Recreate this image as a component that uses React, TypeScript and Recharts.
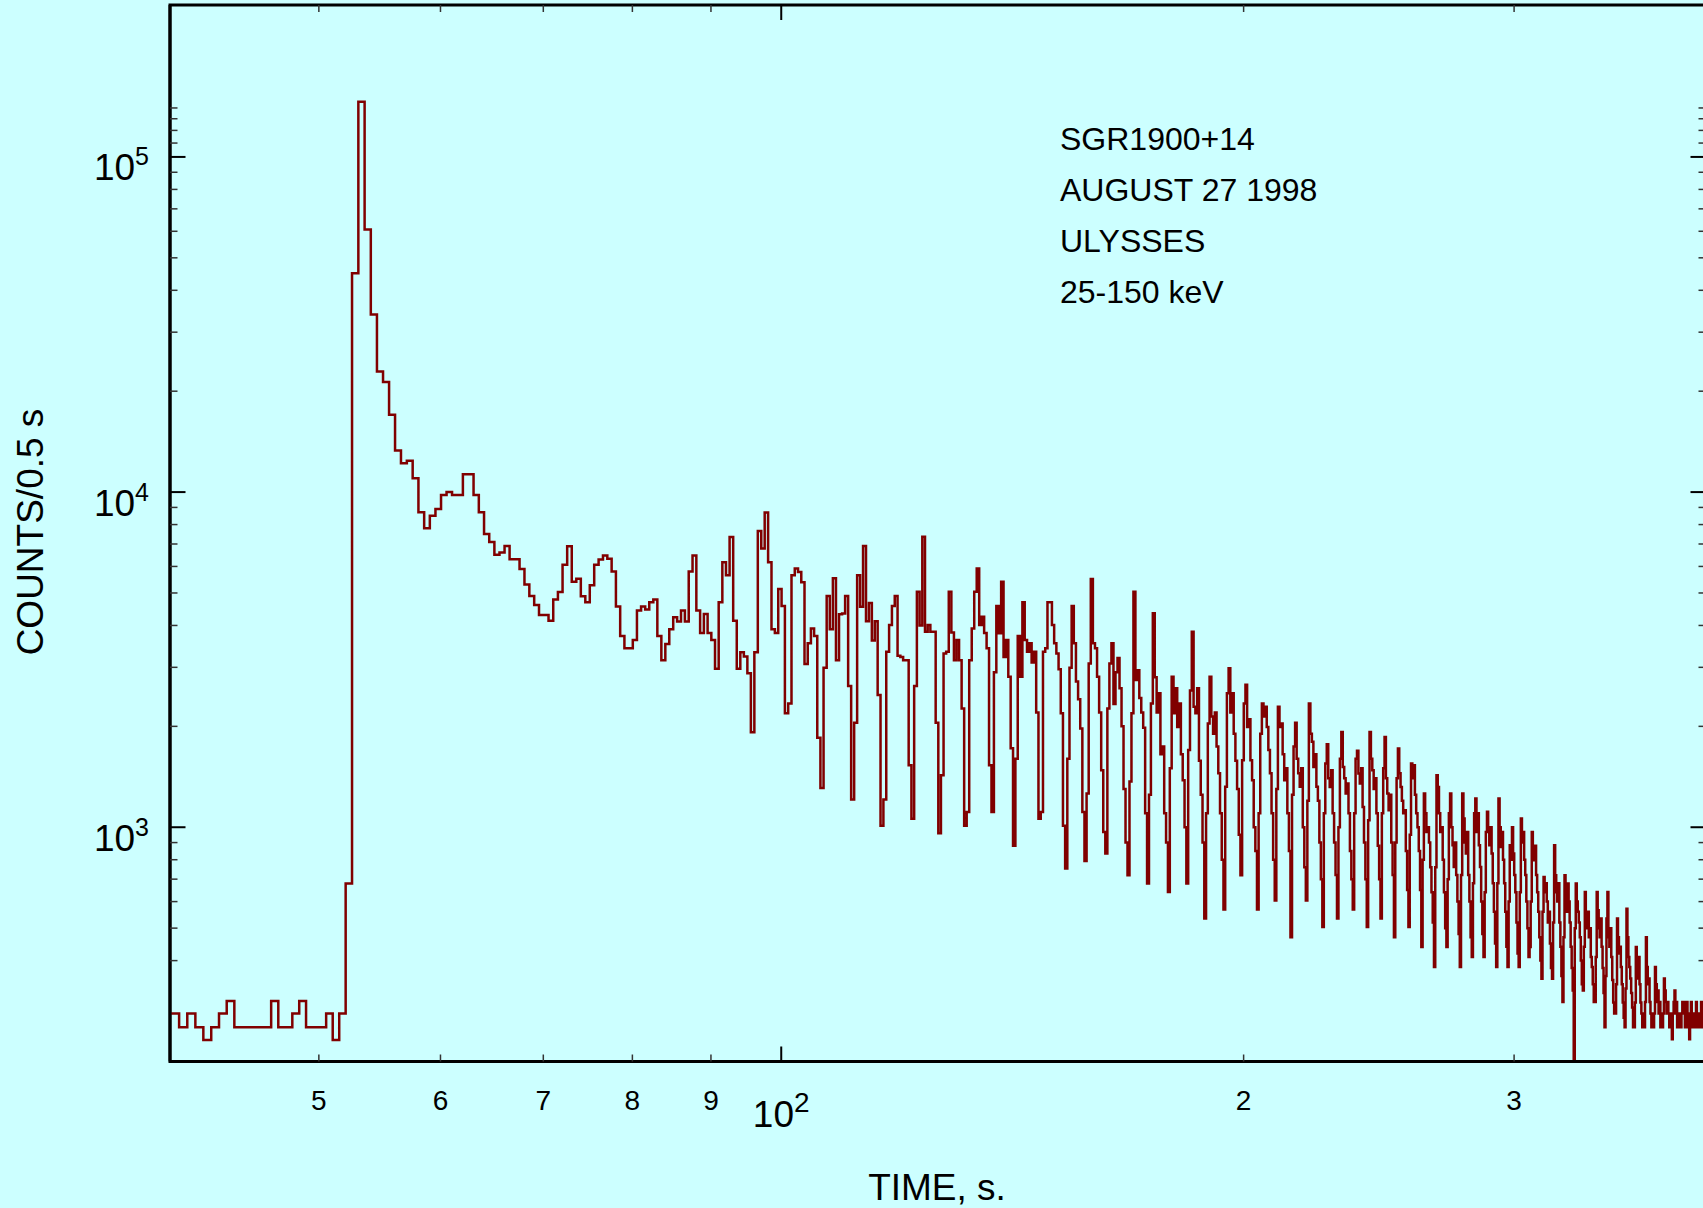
import React from 'react';
import { LineChart, Line, XAxis, YAxis, ReferenceArea } from 'recharts';

// Ulysses 25-150 keV counts per 0.5 s bin, bins start at binStart and step binWidth
const binStart = 39.55;
const binWidth = 0.5;

// pre-burst background, 39.55 .. 52.05 s
const backgroundCounts = [
  278, 278, 253, 278, 253, 232, 253, 278, 303, 253, 253, 253, 253,
  253, 303, 253, 253, 278, 303, 253, 253, 253, 278, 232, 278, 679,
];

// initial spike and unresolved decay, 52.55 .. 99.55 s
const burstCounts = [
  45000, 146000, 60700, 33900, 22900, 21300, 17000, 13300, 12200, 12400,
  11000, 8700, 7800, 8500, 8900, 9800, 10000, 9800, 9800, 11300,
  11300, 9800, 8700, 7500, 7100, 6500, 6600, 6900, 6300, 6300,
  5900, 5300, 4900, 4600, 4300, 4300,
  4130, 4780, 5030, 6070, 6890, 5400, 5510, 4890, 4690, 5270,
  6070, 6290, 6470, 6330, 5790, 4560, 3720, 3420, 3420, 3620,
  4430, 4560, 4460, 4690, 4780, 3720, 3150, 3520, 3900, 4230,
  4110, 4430, 4110, 5790, 6470, 4430, 3800, 4330, 3800, 3620,
  2970, 4690, 6170, 5650, 7340, 4130, 2970, 3330, 3230, 2880,
  1920, 3330, 7660, 6790, 8690, 6170, 3900, 3800, 5140,
];

// pulsating tail, 100.05 .. 399.55 s (one row per 5.16 s pulse, starting at the dip)
const pulsedTailCounts = [
  4570, 2190, 2340, 5650, 5920, 5780, 5380, 3070, 3540, 3920, 3720, 1850,
  1310, 2990, 4900, 3900, 5530, 3150, 4320, 4340, 4900, 2640,
  1210, 2050, 5650, 4550, 6900, 4120, 4670, 3610, 4120, 2480,
  1010, 1210, 3340, 4010, 4570, 4900, 3250, 3220, 3150, 3150, 1530,
  1060, 2640, 5040, 4000, 7360, 3830, 4010, 3830, 3830, 2050,
  960, 1430, 3300, 3340, 5040, 3810, 3150, 3620, 3150, 2260,
  1010, 1110, 3150, 3920, 5040, 5920, 4010, 4250, 3800, 3420, 1530,
  1110, 2900, 4570, 3790, 5400, 3220, 3620, 2810, 1720,
  880, 1600, 3720, 2810, 4690, 3620, 3340, 3540, 3100, 3340, 2200,
  1060, 1110, 3340, 3420, 4690, 4690, 4010, 3540, 3300, 2960, 2190,
  1010, 753, 1600, 2990, 4570, 3540, 2720, 2410, 1970, 1110,
  793, 1260, 3080, 5500, 3540, 3420, 2810, 2200, 1480, 968,
  835, 2260, 3080, 3540, 2330, 2900, 3200, 2600, 2000, 1300, 900,
  719, 1370, 2190, 5040, 2750, 2940, 2430, 2200, 1980, 1100,
  679, 1250, 2340, 4350, 2800, 2200, 2510, 1650, 1740, 1100, 900,
  641, 1500, 2810, 2190, 2600, 1990, 2340, 1650, 1380, 1000,
  679, 1700, 2560, 3830, 2290, 2190, 2600, 1580, 1250, 900,
  534, 1100, 2040, 2810, 2140, 1900, 2200, 1740, 1450, 1100, 800,
  568, 1320, 2510, 2980, 2200, 2510, 1900, 1580, 1300, 950,
  719, 1585, 2340, 2660, 1990, 2100, 1585, 1380, 1000, 850,
  568, 1100, 1900, 2340, 2140, 2290, 1990, 1700, 1450, 1100, 800,
  605, 1300, 2290, 1990, 2040, 1650, 1380, 1500, 1100, 850,
  470, 1250, 1740, 2050, 1600, 1450, 1320, 1500, 1000, 760,
  605, 1200, 2340, 1900, 1800, 1513, 1650, 1320, 1200, 900, 700,
  504, 1100, 1550, 1770, 1400, 1318, 1480, 1100, 900, 720,
  534, 1000, 1600, 1925, 1513, 1400, 1260, 1350, 1100, 850, 700,
  568, 1100, 1600, 1690, 1446, 1350, 1500, 1150, 900, 700,
  504, 1050, 1925, 1600, 1480, 1300, 1400, 1100, 880, 700,
  534, 1100, 1500, 1860, 1400, 1260, 1124, 1250, 900, 720,
  470, 900, 1400, 1718, 1450, 1318, 1200, 1100, 1124, 850, 650,
  504, 950, 1550, 1400, 1531, 1250, 1100, 1000, 850, 650,
  439, 800, 1260, 1100, 968, 1000, 900, 760, 640, 520,
  383, 760, 1430, 1318, 1100, 968, 1000, 800, 640, 500,
  439, 700, 1100, 1260, 1000, 884, 761, 900, 720, 600, 480,
  383, 720, 1260, 1062, 900, 835, 968, 720, 600, 470,
  410, 680, 1100, 1218, 968, 1100, 884, 761, 600, 480,
  410, 640, 968, 1113, 1000, 884, 1000, 835, 680, 560, 450,
  383, 680, 1218, 1000, 873, 968, 800, 680, 560, 440,
  383, 600, 884, 800, 1000, 835, 720, 640, 520, 420,
  383, 640, 1062, 900, 968, 800, 720, 600, 500, 410,
  439, 600, 968, 835, 797, 880, 720, 640, 560, 470, 400,
  353, 560, 711, 640, 680, 600, 520, 560, 450, 380,
  353, 520, 884, 719, 640, 600, 680, 520, 440, 360,
  301, 470, 719, 640, 560, 679, 600, 520, 440, 380, 326,
  190, 500, 679, 600, 560, 520, 470, 400, 340,
  326, 440, 641, 560, 500, 560, 470, 500, 410, 383, 340, 301,
  301, 410, 641, 565, 500, 470, 534, 440, 380, 320,
  253, 360, 534, 641, 470, 440, 500, 410, 350, 300, 278,
  278, 340, 534, 470, 420, 440, 383, 340, 300, 270,
  253, 330, 571, 470, 410, 383, 354, 320, 290, 253,
  253, 300, 439, 383, 354, 410, 340, 300, 278, 253, 278,
  253, 301, 470, 383, 340, 354, 301, 278, 253, 278,
  253, 278, 383, 340, 301, 326, 278, 301, 253, 278,
  253, 278, 354, 326, 301, 278, 301, 278, 253, 278, 253,
  233, 278, 301, 326, 278, 301, 253, 278, 253, 278,
  253, 278, 301, 278, 301, 253, 278, 301, 253, 278,
  233, 253, 301, 278, 253, 278, 253, 278, 301, 253, 278,
  253, 278, 253, 301, 278, 253, 278, 253, 278,
];

const xTicks = [50, 60, 70, 80, 90, 100, 200, 300];
const xTickText = ['5', '6', '7', '8', '9', '10', '2', '3'];
const xTickExp = ['', '', '', '', '', '2', '', ''];

const yTicks = [
  400, 500, 600, 700, 800, 900, 1000,
  2000, 3000, 4000, 5000, 6000, 7000, 8000, 9000, 10000,
  20000, 30000, 40000, 50000, 60000, 70000, 80000, 90000, 100000,
  110000, 120000, 130000, 140000,
];
const yMajorTicks = [1000, 10000, 100000];
const yMajorExp = ['3', '4', '5'];

const noteLines = ['SGR1900+14', 'AUGUST 27 1998', 'ULYSSES', '25-150 keV'];

const counts = [...backgroundCounts, ...burstCounts, ...pulsedTailCounts];
const data = counts.map((c, i) => ({ t: +(binStart + i * binWidth).toFixed(2), c }));

const FONT = '"Liberation Sans", Arial, Helvetica, sans-serif';
const PLOT_TOP = 5;
const PLOT_RIGHT = 1706;

const XTick = (props: any) => {
  const { x, y, payload } = props;
  const i = xTicks.indexOf(payload.value);
  const exp = xTickExp[i];
  const len = exp ? 15 : 7;
  const sw = exp ? 2 : 1.5;
  const col = exp ? '#000' : '#333';
  return (
    <g>
      <line x1={x} x2={x} y1={y} y2={y - len} stroke={col} strokeWidth={sw} />
      <line x1={x} x2={x} y1={PLOT_TOP} y2={PLOT_TOP + len} stroke={col} strokeWidth={sw} />
      {exp ? (
        <text x={x} y={y + 65} textAnchor="middle" fontSize={37} fill="#000" fontFamily={FONT}>
          10<tspan fontSize={28} dy={-15}>{exp}</tspan>
        </text>
      ) : (
        <text x={x} y={y + 48.5} textAnchor="middle" fontSize={28} fill="#000" fontFamily={FONT}>
          {xTickText[i]}
        </text>
      )}
    </g>
  );
};

const YTick = (props: any) => {
  const { x, y, payload } = props;
  const i = yMajorTicks.indexOf(payload.value);
  const major = i >= 0;
  const len = major ? 15.5 : 7.5;
  const sw = major ? 2 : 1.5;
  const col = major ? '#000' : '#333';
  return (
    <g>
      <line x1={x} x2={x + len} y1={y} y2={y} stroke={col} strokeWidth={sw} />
      <line x1={PLOT_RIGHT} x2={PLOT_RIGHT - len} y1={y} y2={y} stroke={col} strokeWidth={sw} />
      {major && (
        <text x={x - 21} y={y + 23.5} textAnchor="end" fontSize={37} fill="#000" fontFamily={FONT}>
          10<tspan fontSize={25} dy={-15}>{yMajorExp[i]}</tspan>
        </text>
      )}
    </g>
  );
};

export default function App() {
  return (
    <div
      style={{
        position: 'absolute',
        left: 0,
        top: 0,
        width: 1703,
        height: 1208,
        overflow: 'hidden',
        background: '#CCFFFF',
        fontFamily: FONT,
      }}
    >
      <LineChart width={1720} height={1208} data={data} margin={{ top: 5, right: 14, bottom: 0, left: 0 }}>
        <XAxis
          dataKey="t"
          type="number"
          scale="log"
          domain={[40, 400]}
          allowDataOverflow
          ticks={xTicks}
          interval={0}
          height={146.5}
          tickSize={0}
          tickMargin={0}
          tickLine={false}
          axisLine={{ stroke: '#000', strokeWidth: 3 }}
          tick={<XTick />}
        />
        <YAxis
          type="number"
          scale="log"
          domain={[200, 284000]}
          allowDataOverflow
          ticks={yTicks}
          interval={0}
          width={170}
          tickSize={0}
          tickMargin={0}
          tickLine={false}
          axisLine={{ stroke: '#000', strokeWidth: 3 }}
          tick={<YTick />}
        />
        <ReferenceArea
          x1={40}
          x2={400}
          y1={200}
          y2={284000}
          fill="none"
          fillOpacity={0}
          stroke="#000"
          strokeWidth={3}
          ifOverflow="visible"
        />
        <Line
          type="stepAfter"
          dataKey="c"
          stroke="#800000"
          strokeWidth={2.5}
          dot={false}
          activeDot={false}
          isAnimationActive={false}
        />
      </LineChart>
      <svg
        width={1703}
        height={1208}
        style={{ position: 'absolute', left: 0, top: 0, pointerEvents: 'none' }}
      >
        <text x={937} y={1200} textAnchor="middle" fontSize={37} fill="#000" fontFamily={FONT}>
          TIME, s.
        </text>
        <text transform="translate(43, 532) rotate(-90)" textAnchor="middle" fontSize={37} fill="#000" fontFamily={FONT}>
          COUNTS/0.5 s
        </text>
        {noteLines.map((line, i) => (
          <text key={line} x={1060} y={150 + i * 50.9} fontSize={32} fill="#000" fontFamily={FONT}>
            {line}
          </text>
        ))}
      </svg>
    </div>
  );
}
